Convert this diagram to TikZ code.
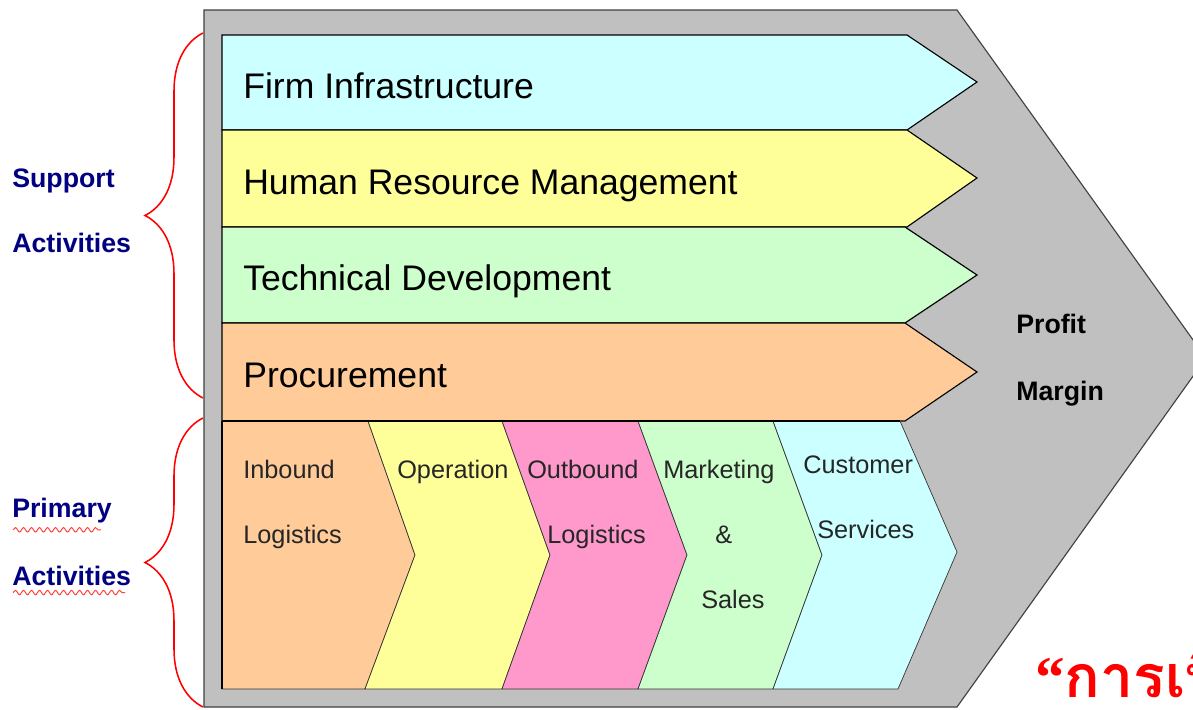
\documentclass[tikz,border=0pt]{standalone}
\usepackage{fontspec}
\setmainfont{Liberation Sans}
\newfontfamily\thaifont[Script=Thai]{Loma}
\newfontfamily\quotefont{Liberation Serif}
\usetikzlibrary{decorations.pathreplacing, decorations.pathmorphing}

\definecolor{panel}{HTML}{C0C0C0}
\definecolor{skyband}{HTML}{CCFFFF}
\definecolor{lemonband}{HTML}{FFFF99}
\definecolor{mintband}{HTML}{CCFFCC}
\definecolor{peachband}{HTML}{FFCC99}
\definecolor{pinkband}{HTML}{FF99CC}
\definecolor{navytext}{HTML}{000080}

\tikzset{
  band/.style={draw=black, line width=0.8pt},
  chev/.style={draw=black!80, line width=0.5pt},
  bandlabel/.style={anchor=base west, inner sep=0pt, font=\fontsize{25.3}{29}\selectfont},
  chevlabel/.style={anchor=base west, inner sep=0pt, text=black!85, font=\fontsize{18}{21}\selectfont},
  sidelabel/.style={anchor=base west, inner sep=0pt, text=navytext, font=\bfseries\fontsize{19}{22}\selectfont},
  curly/.style={red, line width=1.1pt, decorate, decoration={brace, amplitude=1.45cm}},
  squiggle/.style={red!75!white, line width=0.7pt, decorate, decoration={snake, amplitude=0.055cm, segment length=0.2cm}}
}

\begin{document}
\begin{tikzpicture}[x=0.025cm, y=-0.025cm]
      \useasboundingbox (0,0) rectangle (1193,710);
      \clip (0,0) rectangle (1193,710);

      % Outer arrow
      \filldraw[fill=panel, draw=black!75, line width=0.8pt]
        (204,10) -- (957,10) -- (1206,358) -- (957,707) -- (204,707) -- cycle;

      % Support bands
      \filldraw[band, fill=skyband]   (222,35) -- (907,35) -- (977,82) -- (907,130) -- (222,130) -- cycle;
      \filldraw[band, fill=lemonband] (222,130) -- (907,130) -- (977,178) -- (907,227) -- (222,227) -- cycle;
      \filldraw[band, fill=mintband]  (222,227) -- (905,227) -- (977,275) -- (905,323) -- (222,323) -- cycle;
      \filldraw[band, fill=peachband] (222,323) -- (905,323) -- (977,372) -- (905,421) -- (222,421) -- cycle;

      % Primary chevrons
      \filldraw[chev, fill=peachband] (222,421) -- (368,421) -- (415,555) -- (365,689) -- (222,689) -- cycle;
      \filldraw[chev, fill=lemonband] (368,421) -- (502,421) -- (550,555) -- (502,689) -- (365,689) -- (415,555) -- cycle;
      \filldraw[chev, fill=pinkband]  (502,421) -- (638,421) -- (687,555) -- (638,689) -- (502,689) -- (550,555) -- cycle;
      \filldraw[chev, fill=mintband]  (638,421) -- (773,421) -- (822,555) -- (773,689) -- (638,689) -- (687,555) -- cycle;
      \filldraw[chev, fill=skyband]   (773,421) -- (900,421) -- (957,552) -- (898,689) -- (773,689) -- (822,555) -- cycle;
      \draw[black, line width=1.6pt] (222,421) -- (900,421);
      \draw[black, line width=0.8pt] (222,421) -- (222,689);

      % Nodes
      \node[bandlabel] at (243,98) (firm) {Firm Infrastructure};
      \node[bandlabel] at (243,194) (hrm) {Human Resource Management};
      \node[bandlabel] at (243,290) (tech) {Technical Development};
      \node[bandlabel] at (243,387) (proc) {Procurement};

      \node[chevlabel] at (243,478) (inbound) {Inbound};
      \node[chevlabel] at (243,543) (inboundb) {Logistics};
      \node[chevlabel] at (397,478) (operation) {Operation};
      \node[chevlabel] at (527,478) (outbound) {Outbound};
      \node[chevlabel] at (547,543) (outboundb) {Logistics};
      \node[chevlabel] at (663,478) (marketing) {Marketing};
      \node[chevlabel] at (715,543) (amp) {\&};
      \node[chevlabel] at (701,608) (sales) {Sales};
      \node[chevlabel] at (803,473) (customer) {Customer};
      \node[chevlabel] at (817,538) (services) {Services};

      \node[sidelabel, text=black] at (1016,333) (profit) {Profit};
      \node[sidelabel, text=black] at (1016,400) (margin) {Margin};

      \node[sidelabel] at (12,187) (support) {Support};
      \node[sidelabel] at (12,252) (supportb) {Activities};
      \node[sidelabel] at (12,517) (primary) {Primary};
      \node[sidelabel] at (12,585) (primaryb) {Activities};

      % Braces
      \coordinate (supbot) at (203,398);
      \coordinate (suptop) at (203,33);
      \coordinate (pribot) at (203,707);
      \coordinate (pritop) at (203,418);
      \draw[curly] (supbot) -- (suptop);
      \draw[curly] (pribot) -- (pritop);

      % Spelling marks
      \draw[squiggle] (primary.south west) ++(1,7) -- ++(88,0);
      \draw[squiggle] (primaryb.south west) ++(1,7) -- ++(112,0);

      \node[anchor=base west, inner sep=0pt, text=red, font=\thaifont\bfseries\fontsize{42}{48}\selectfont]
        at (1035,697) (caption) {{\quotefont “}การเพิ่มคุณค่า{\quotefont ”}};
\end{tikzpicture}
\end{document}
